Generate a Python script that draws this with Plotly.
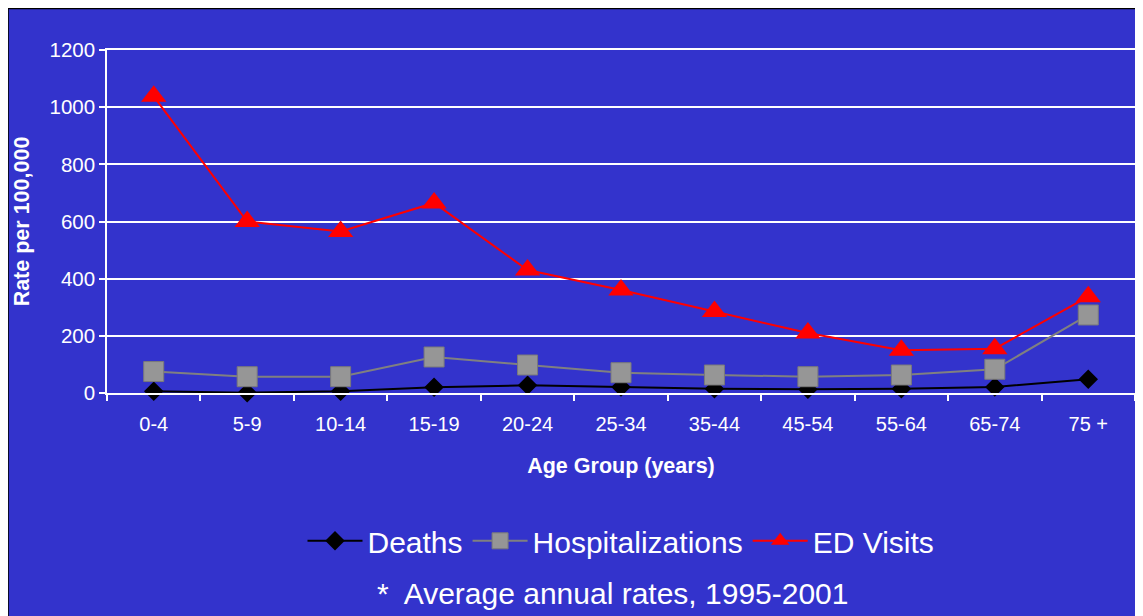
import plotly.graph_objects as go

age_groups = ["0-4", "5-9", "10-14", "15-19", "20-24", "25-34", "35-44", "45-54", "55-64", "65-74", "75 +"]
deaths = [6, 1, 6, 20, 27, 21, 15, 13, 15, 21, 48]
hospitalizations = [75, 57, 57, 126, 98, 71, 63, 57, 63, 83, 273]
ed_visits = [1038, 600, 565, 665, 430, 360, 285, 210, 150, 155, 337]

y_ticks = [0, 200, 400, 600, 800, 1000, 1200]

BG = "#3333CC"
FONT = "Liberation Sans, Arial, sans-serif"

fig = go.Figure()
fig.add_trace(go.Scatter(
    x=age_groups, y=deaths, name="Deaths", mode="lines+markers",
    line=dict(color="#000000", width=2),
    marker=dict(symbol="diamond", size=15, color="#000000"),
    cliponaxis=False,
))
fig.add_trace(go.Scatter(
    x=age_groups, y=hospitalizations, name="Hospitalizations", mode="lines+markers",
    line=dict(color="#808080", width=2),
    marker=dict(symbol="square", size=20, color="#969696", line=dict(color="#7a7a7a", width=1)),
    cliponaxis=False,
))
fig.add_trace(go.Scatter(
    x=age_groups, y=ed_visits, name="ED Visits", mode="lines+markers",
    line=dict(color="#FF0000", width=2),
    marker=dict(symbol="triangle-up", size=22, color="#FF0000"),
    cliponaxis=False,
))

# outer blue panel with black border
fig.add_shape(type="rect", xref="paper", yref="paper",
              x0=-0.0965, x1=1.02, y0=-0.68, y1=1.122,
              fillcolor=BG, line=dict(color="#000000", width=2), layer="below")

fig.add_annotation(
    text="*\u00a0 Average annual rates, 1995-2001",
    xref="paper", yref="paper", x=0.492, y=-0.585,
    xanchor="center", yanchor="middle", showarrow=False,
    font=dict(family=FONT, size=30, color="white"),
)

fig.update_layout(
    width=1135, height=608,
    margin=dict(l=99, r=6, t=42, b=223),
    paper_bgcolor="white",
    plot_bgcolor=BG,
    font=dict(family=FONT, color="white"),
    showlegend=True,
    legend=dict(orientation="h", x=0.5, xanchor="center", y=-0.431, yanchor="middle",
                font=dict(family=FONT, size=30, color="white"),
                bgcolor="rgba(0,0,0,0)", itemwidth=55, tracegroupgap=0),
)
fig.update_xaxes(
    type="category", range=[-0.5, 10.5],
    showline=True, linecolor="white", linewidth=1.5, mirror=True,
    ticks="outside", tickson="boundaries", ticklen=6, tickcolor="white", tickwidth=1.5,
    showgrid=False, ticklabelstandoff=12,
    tickfont=dict(family=FONT, size=20, color="white"),
    title=dict(text="<b>Age Group (years)</b>", font=dict(family=FONT, size=21.5, color="white"), standoff=24),
)
fig.update_yaxes(
    range=[0, 1200], tickvals=y_ticks,
    showline=True, linecolor="white", linewidth=1.5, mirror=True,
    ticks="outside", ticklen=6, tickcolor="white", tickwidth=1.5,
    showgrid=True, gridcolor="white", gridwidth=1.5, zeroline=False,
    tickfont=dict(family=FONT, size=20.5, color="white"),
    title=dict(text="<b>Rate per 100,000</b>", font=dict(family=FONT, size=21.5, color="white"), standoff=14),
)

fig.write_html("out.html")
